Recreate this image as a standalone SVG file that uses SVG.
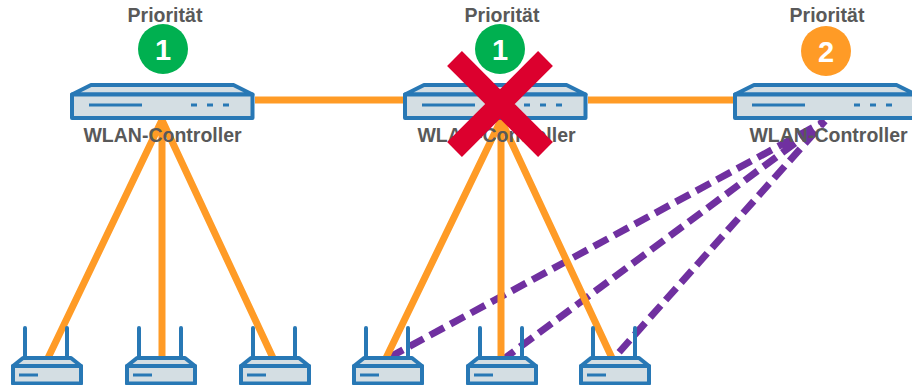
<svg xmlns="http://www.w3.org/2000/svg" width="912" height="385" viewBox="0 0 912 385">
<style>
text{font-family:"Liberation Sans",Arial,sans-serif;font-weight:bold;text-anchor:middle}
.lbl{font-size:19.500px;fill:#595959}
.num{font-size:29px;fill:#fff}
.o{stroke:#ff9b26;stroke-width:7;fill:none}
.p{stroke:#7030a0;stroke-width:7;fill:none;stroke-dasharray:16 7.300;stroke-dashoffset:9.300}
.b{stroke:#2878b5;stroke-width:4;fill:#d4dee3;stroke-linejoin:round}
.l{stroke:#2878b5;stroke-width:3;fill:none}
.a{stroke:#2878b5;stroke-width:4;fill:none;stroke-linecap:round}
.x{stroke:#dc002e;stroke-width:21;fill:none}
</style>
<defs>
<g id="ctl">
<path class="b" d="M2 12L21 2.500H163.500L182.500 12Z"/>
<rect class="b" x="2" y="12" width="180.500" height="23.500"/>
<path class="l" d="M19 22.500H72"/>
<path class="l" stroke-dasharray="6 10" d="M121 22.500H160"/>
</g>
<g id="rtr">
<path class="a" d="M14 2V32M56 2V32"/>
<path class="b" d="M2 40L12 32H60L70 40Z"/>
<rect class="b" x="2" y="40" width="68" height="17.500"/>
<path class="l" d="M8 49H27"/>
</g>
</defs>
<g id="connectors">
<path class="p" d="M825 121L388 358M825 121L505 358M825 121L614 358"/>
<path class="o" d="M255 100H403M588 100H733"/>
<path class="o" d="M162 120L48 358M162 120V358M162 120L273 358"/>
<path class="o" d="M501 120L386 358M501 120V358M501 120L612 358"/>
</g>
<g id="controller-1"><use href="#ctl" x="70" y="82.500"/></g>
<g id="controller-2"><use href="#ctl" x="403" y="82.500"/></g>
<g id="controller-3"><use href="#ctl" x="733" y="82.500"/></g>
<g id="router-1"><use href="#rtr" x="11" y="326"/></g>
<g id="router-2"><use href="#rtr" x="125" y="326"/></g>
<g id="router-3"><use href="#rtr" x="239" y="326"/></g>
<g id="router-4"><use href="#rtr" x="352" y="326"/></g>
<g id="router-5"><use href="#rtr" x="466" y="326"/></g>
<g id="router-6"><use href="#rtr" x="579" y="326"/></g>
<g id="prio-1"><text class="lbl" x="165" y="22">Priorität</text><circle cx="163" cy="49" r="25" fill="#00b050"/><text class="num" x="163" y="60">1</text></g>
<g id="prio-2"><text class="lbl" x="502" y="22">Priorität</text><circle cx="500" cy="49" r="25" fill="#00b050"/><text class="num" x="500" y="60">1</text></g>
<g id="prio-3"><text class="lbl" x="827" y="22">Priorität</text><circle cx="826" cy="51" r="25" fill="#ff9b26"/><text class="num" x="826" y="62">2</text></g>
<g id="labels">
<text class="lbl" x="162.500" y="142">WLAN-Controller</text>
<text class="lbl" x="496.500" y="142">WLAN-Controller</text>
<text class="lbl" x="828.500" y="142">WLAN-Controller</text>
</g>
<g id="cross"><path class="x" d="M454.500 58.500L545.500 149.500M545.500 58.500L454.500 149.500"/></g>
</svg>
